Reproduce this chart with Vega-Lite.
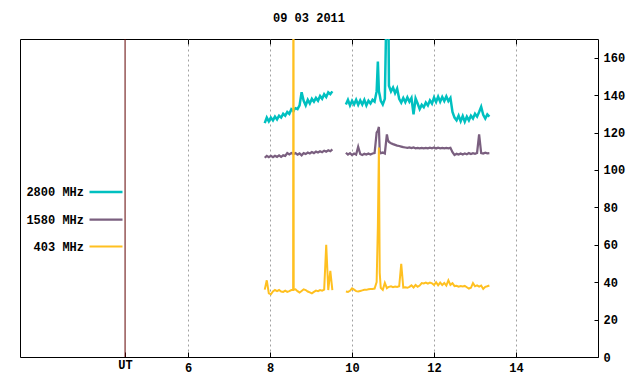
{
  "$schema": "https://vega.github.io/schema/vega-lite/v6.json",
  "width": 578,
  "height": 318,
  "autosize": {"type": "none"},
  "padding": {"left": 20, "top": 39, "right": 42, "bottom": 27},
  "background": "white",
  "title": {"text": "09 03 2011", "font": "Liberation Mono", "fontSize": 12, "fontWeight": "bold", "color": "black", "offset": 14, "anchor": "middle"},
  "config": {"view": {"stroke": "black", "strokeWidth": 1}},
  "layer": [
    {
      "data": {"values": [
        {"t":7.87,"g":1,"c":125,"p":106.5,"o":36},
        {"t":7.92,"g":1,"c":128,"p":107.5,"o":41},
        {"t":7.97,"g":1,"c":126,"p":106.8,"o":34},
        {"t":8.02,"g":1,"c":128,"p":107.5,"o":33.5},
        {"t":8.07,"g":1,"c":126.5,"p":106.8,"o":35},
        {"t":8.12,"g":1,"c":128.5,"p":107.6,"o":35.8},
        {"t":8.17,"g":1,"c":127,"p":107,"o":35.2},
        {"t":8.22,"g":1,"c":129,"p":107.8,"o":35.8},
        {"t":8.27,"g":1,"c":128,"p":107,"o":35},
        {"t":8.32,"g":1,"c":130,"p":107.8,"o":34.8},
        {"t":8.37,"g":1,"c":129,"p":107.5,"o":35.5},
        {"t":8.42,"g":1,"c":131,"p":109,"o":34.8},
        {"t":8.47,"g":1,"c":130,"p":108.3,"o":35.2},
        {"t":8.52,"g":1,"c":132.5,"p":109,"o":35.8},
        {"t":8.563,"g":1,"c":131.8,"p":108.7,"o":35.8},
        {"t":8.57,"g":1,"c":131,"p":108.4,"o":300},
        {"t":8.577,"g":1,"c":132,"p":108.6,"o":36},
        {"t":8.62,"g":1,"c":133,"p":109,"o":36.2},
        {"t":8.67,"g":1,"c":132.5,"p":108.2,"o":35.2},
        {"t":8.72,"g":1,"c":134.5,"p":108.8,"o":34.5},
        {"t":8.77,"g":1,"c":141.5,"p":107.8,"o":35.3},
        {"t":8.82,"g":1,"c":137,"p":109,"o":36.2},
        {"t":8.87,"g":1,"c":134.5,"p":108.5,"o":35.8},
        {"t":8.92,"g":1,"c":137.5,"p":109.3,"o":35},
        {"t":8.97,"g":1,"c":135.5,"p":108.8,"o":34.5},
        {"t":9.02,"g":1,"c":138,"p":109.6,"o":34},
        {"t":9.07,"g":1,"c":136.5,"p":109,"o":34.8},
        {"t":9.12,"g":1,"c":138.5,"p":109.8,"o":35.5},
        {"t":9.17,"g":1,"c":137,"p":109.3,"o":35.2},
        {"t":9.22,"g":1,"c":139.5,"p":110,"o":35.8},
        {"t":9.27,"g":1,"c":138,"p":109.5,"o":35.5},
        {"t":9.32,"g":1,"c":140.5,"p":110.3,"o":36},
        {"t":9.37,"g":1,"c":139,"p":109.8,"o":60},
        {"t":9.42,"g":1,"c":141.5,"p":110.5,"o":35.8},
        {"t":9.47,"g":1,"c":140.5,"p":110,"o":46},
        {"t":9.52,"g":1,"c":142,"p":111,"o":35.8},
        {"t":9.85,"g":2,"c":135,"p":109.2,"o":35},
        {"t":9.90,"g":2,"c":137.5,"p":108.2,"o":34.8},
        {"t":9.95,"g":2,"c":134.5,"p":109,"o":35.4},
        {"t":10.00,"g":2,"c":137,"p":108,"o":36.7},
        {"t":10.05,"g":2,"c":135,"p":108.8,"o":36},
        {"t":10.10,"g":2,"c":137.5,"p":108.2,"o":35.2},
        {"t":10.15,"g":2,"c":134.8,"p":112.4,"o":35},
        {"t":10.20,"g":2,"c":137.2,"p":108.5,"o":35.3},
        {"t":10.25,"g":2,"c":135,"p":108,"o":35.6},
        {"t":10.30,"g":2,"c":137.5,"p":108.6,"o":35.9},
        {"t":10.35,"g":2,"c":134.5,"p":108.2,"o":35.9},
        {"t":10.40,"g":2,"c":137,"p":108.8,"o":36.2},
        {"t":10.45,"g":2,"c":135.5,"p":108.3,"o":36.4},
        {"t":10.50,"g":2,"c":137.5,"p":108.8,"o":36.4},
        {"t":10.55,"g":2,"c":136.5,"p":109,"o":36.6},
        {"t":10.60,"g":2,"c":142,"p":120,"o":40},
        {"t":10.63,"g":2,"c":158,"p":121,"o":70},
        {"t":10.655,"g":2,"c":142,"p":123,"o":112},
        {"t":10.675,"g":2,"c":140,"p":110,"o":45},
        {"t":10.70,"g":2,"c":137,"p":109,"o":37},
        {"t":10.75,"g":2,"c":135,"p":109.3,"o":35.9},
        {"t":10.80,"g":2,"c":138,"p":108.8,"o":39.6},
        {"t":10.85,"g":2,"c":200,"p":119,"o":36.8},
        {"t":10.875,"g":2,"c":220,"p":116,"o":37.2},
        {"t":10.90,"g":2,"c":145,"p":115,"o":37.5},
        {"t":10.95,"g":2,"c":142,"p":114.3,"o":37.8},
        {"t":11.00,"g":2,"c":144,"p":113.8,"o":37.3},
        {"t":11.05,"g":2,"c":141,"p":113.4,"o":37.7},
        {"t":11.10,"g":2,"c":143.5,"p":113,"o":37.4},
        {"t":11.15,"g":2,"c":138,"p":112.8,"o":37.8},
        {"t":11.20,"g":2,"c":136,"p":112.5,"o":49.8},
        {"t":11.25,"g":2,"c":138.5,"p":112.2,"o":37.1},
        {"t":11.30,"g":2,"c":136.2,"p":112,"o":37.3},
        {"t":11.35,"g":2,"c":138.8,"p":111.8,"o":37},
        {"t":11.40,"g":2,"c":136.5,"p":112,"o":37.5},
        {"t":11.45,"g":2,"c":138.5,"p":111.7,"o":38.3},
        {"t":11.50,"g":2,"c":129.7,"p":112,"o":37.2},
        {"t":11.55,"g":2,"c":138.2,"p":111.6,"o":38.5},
        {"t":11.60,"g":2,"c":135.5,"p":111.8,"o":37.5},
        {"t":11.65,"g":2,"c":132.5,"p":111.6,"o":38.2},
        {"t":11.70,"g":2,"c":134.8,"p":111.8,"o":39.5},
        {"t":11.75,"g":2,"c":133.5,"p":111.5,"o":39.3},
        {"t":11.80,"g":2,"c":136,"p":111.8,"o":39.8},
        {"t":11.85,"g":2,"c":134.5,"p":111.5,"o":39.2},
        {"t":11.90,"g":2,"c":137.2,"p":111.9,"o":39.8},
        {"t":11.95,"g":2,"c":135.5,"p":111.6,"o":39.4},
        {"t":12.00,"g":2,"c":138.8,"p":112,"o":38.5},
        {"t":12.05,"g":2,"c":136.3,"p":111.5,"o":40},
        {"t":12.10,"g":2,"c":139.2,"p":111.9,"o":38.3},
        {"t":12.15,"g":2,"c":136.5,"p":111.6,"o":39.8},
        {"t":12.20,"g":2,"c":139,"p":111.8,"o":38.5},
        {"t":12.25,"g":2,"c":136.8,"p":111.5,"o":39.6},
        {"t":12.30,"g":2,"c":139.3,"p":111.8,"o":38.2},
        {"t":12.35,"g":2,"c":136.8,"p":111.5,"o":41},
        {"t":12.40,"g":2,"c":138.5,"p":111.8,"o":38.6},
        {"t":12.45,"g":2,"c":131,"p":109.5,"o":39.5},
        {"t":12.50,"g":2,"c":128,"p":108,"o":37.9},
        {"t":12.55,"g":2,"c":126.5,"p":108.6,"o":38.1},
        {"t":12.60,"g":2,"c":129,"p":108.2,"o":37.6},
        {"t":12.65,"g":2,"c":126,"p":108.8,"o":37.9},
        {"t":12.70,"g":2,"c":128.8,"p":108.3,"o":37.7},
        {"t":12.75,"g":2,"c":125.8,"p":108.8,"o":38},
        {"t":12.80,"g":2,"c":128.5,"p":108.4,"o":37.3},
        {"t":12.85,"g":2,"c":126.5,"p":109,"o":36.6},
        {"t":12.90,"g":2,"c":129,"p":108.5,"o":37},
        {"t":12.95,"g":2,"c":127.5,"p":109,"o":39.5},
        {"t":13.00,"g":2,"c":130,"p":108.6,"o":37.8},
        {"t":13.05,"g":2,"c":128.5,"p":109.1,"o":38.3},
        {"t":13.10,"g":2,"c":131,"p":119,"o":37.6},
        {"t":13.15,"g":2,"c":133.8,"p":109,"o":38.2},
        {"t":13.20,"g":2,"c":129.5,"p":108.8,"o":36.4},
        {"t":13.25,"g":2,"c":127.5,"p":109.2,"o":37.5},
        {"t":13.30,"g":2,"c":129.7,"p":108.9,"o":37.8},
        {"t":13.35,"g":2,"c":128.5,"p":109,"o":38.2}
      ]},
      "transform": [{"fold": ["c", "p", "o"], "as": ["k", "v"]}],
      "mark": {"type": "line", "clip": true},
      "encoding": {
        "x": {"field": "t", "type": "quantitative",
          "scale": {"domain": [1.9, 16], "nice": false, "zero": false},
          "axis": {"orient": "bottom", "title": null, "values": [4.463, 6, 8, 10, 12, 14], "format": "d",
            "labelExpr": "datum.value < 5 ? 'UT' : datum.label",
            "domain": false, "grid": true, "gridDash": [2, 3], "gridColor": "#a0a0a0",
            "gridOpacity": {"condition": {"test": "datum.value < 5", "value": 0}, "value": 1},
            "ticks": true, "tickSize": -5, "tickColor": "black",
            "labelPadding": {"condition": {"test": "datum.value < 5", "value": 7}, "value": 10},
            "labelFont": "Liberation Mono", "labelFontSize": 12, "labelFontWeight": "bold", "labelColor": "black"}},
        "y": {"field": "v", "type": "quantitative",
          "scale": {"domain": [0, 170], "nice": false},
          "axis": {"orient": "right", "title": null, "values": [0, 20, 40, 60, 80, 100, 120, 140, 160],
            "domain": false, "grid": false, "ticks": true, "tickSize": -4, "tickColor": "black",
            "labelPadding": 9, "labelFont": "Liberation Mono", "labelFontSize": 12, "labelFontWeight": "bold", "labelColor": "black"}},
        "color": {"field": "k", "type": "nominal",
          "scale": {"domain": ["c", "p", "o"], "range": ["#00c0c0", "#7a5f7f", "#ffc020"]},
          "legend": {"orient": "none", "legendX": 79, "legendY": 146, "title": null,
            "symbolType": "M-3,0H3", "symbolSize": 121, "symbolStrokeWidth": 1,
            "labelAlign": "right", "labelOffset": -29, "rowPadding": 14.5,
            "labelFont": "Liberation Mono", "labelFontSize": 12, "labelFontWeight": "bold", "labelColor": "black",
            "labelExpr": "datum.label == 'c' ? '2800 MHz' : datum.label == 'p' ? '1580 MHz' : '403 MHz'",
            "encode": {"symbols": {"update": {"strokeWidth": {"value": 1}}}}}},
        "strokeWidth": {"field": "k", "type": "nominal",
          "scale": {"domain": ["c", "p", "o"], "range": [2.5, 2, 1.5]}, "legend": null},
        "detail": {"field": "g"}
      }
    },
    {
      "data": {"values": [{"ut": 4.463}]},
      "mark": {"type": "rule", "color": "#600000", "strokeWidth": 1},
      "encoding": {
        "x": {"field": "ut", "type": "quantitative",
          "scale": {"domain": [1.9, 16], "nice": false, "zero": false},
          "axis": {"orient": "top", "title": null, "values": [6, 8, 10, 12, 14], "labels": false,
            "domain": false, "grid": false, "ticks": true, "tickSize": -5, "tickColor": "black"}}
      }
    }
  ],
  "resolve": {"axis": {"x": "independent"}}
}
